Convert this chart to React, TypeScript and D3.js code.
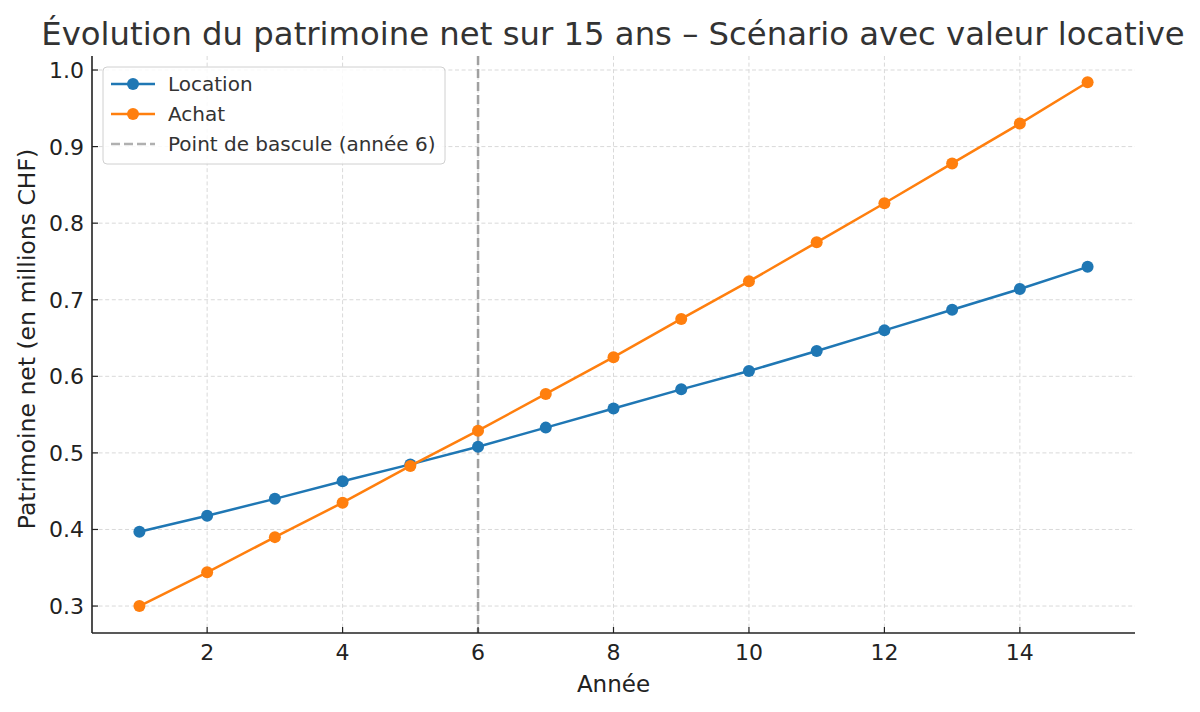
import React from "react";
import * as d3 from "d3";

const years = [1, 2, 3, 4, 5, 6, 7, 8, 9, 10, 11, 12, 13, 14, 15];
const location = [0.397, 0.418, 0.440, 0.463, 0.485, 0.508, 0.533, 0.558, 0.583, 0.607, 0.633, 0.660, 0.687, 0.714, 0.743];
const achat = [0.300, 0.344, 0.390, 0.435, 0.483, 0.529, 0.577, 0.625, 0.675, 0.724, 0.775, 0.826, 0.878, 0.930, 0.984];
const xTicks = [2, 4, 6, 8, 10, 12, 14];
const yTicks = [0.3, 0.4, 0.5, 0.6, 0.7, 0.8, 0.9, 1.0];
const bascule = 6;
const title = "Évolution du patrimoine net sur 15 ans – Scénario avec valeur locative";
const seriesNames = ["Location", "Achat"];
const basculeLabel = "Point de bascule (année 6)";

const W = 1200, H = 712;
const L = 92, R = 1135, T = 56, B = 633;
const BLUE = "#1f77b4", ORANGE = "#ff7f0e";
const FONT = "DejaVu Sans, sans-serif";

export default function App() {
  const x = d3.scaleLinear().domain([0.3, 15.7]).range([L, R]);
  const y = d3.scaleLinear().domain([0.2648, 1.0183]).range([B, T]);
  const line = d3.line<number>().x((_, i) => x(years[i])).y((d) => y(d));
  const series = [
    { name: seriesNames[0], data: location, color: BLUE },
    { name: seriesNames[1], data: achat, color: ORANGE },
  ];
  return (
    <svg width={W} height={H} style={{ position: "absolute", left: 0, top: 0, background: "#fff" }} fontFamily={FONT}>
      <rect width={W} height={H} fill="#fff" />
      {/* grid */}
      {xTicks.map((t) => (
        <line key={"gx" + t} x1={x(t)} x2={x(t)} y1={T} y2={B} stroke="#d9d9d9" strokeWidth={1} strokeDasharray="4,2.6" />
      ))}
      {yTicks.map((t) => (
        <line key={"gy" + t} x1={L} x2={R} y1={y(t)} y2={y(t)} stroke="#d9d9d9" strokeWidth={1} strokeDasharray="4,2.6" />
      ))}
      {/* bascule line */}
      <line x1={x(bascule)} x2={x(bascule)} y1={T} y2={B} stroke="#a0a0a0" strokeWidth={2.5} strokeDasharray="9,4" />
      {/* series */}
      {series.map((s) => (
        <g key={s.name}>
          <path d={line(s.data) || ""} fill="none" stroke={s.color} strokeWidth={2.5} />
          {s.data.map((v, i) => (
            <circle key={i} cx={x(years[i])} cy={y(v)} r={6} fill={s.color} />
          ))}
        </g>
      ))}
      {/* axes */}
      <line x1={L} x2={L} y1={T} y2={B} stroke="#222" strokeWidth={1.6} />
      <line x1={L} x2={R} y1={B} y2={B} stroke="#222" strokeWidth={1.6} />
      {xTicks.map((t) => (
        <g key={"xt" + t}>
          <line x1={x(t)} x2={x(t)} y1={B} y2={B - 6} stroke="#222" strokeWidth={1.2} />
          <text x={x(t)} y={660} textAnchor="middle" fontSize={22} fill="#222">{t}</text>
        </g>
      ))}
      {yTicks.map((t) => (
        <g key={"yt" + t}>
          <line x1={L} x2={L + 6} y1={y(t)} y2={y(t)} stroke="#222" strokeWidth={1.2} />
          <text x={84} y={y(t)} dy="0.36em" textAnchor="end" fontSize={22} fill="#222">{t.toFixed(1)}</text>
        </g>
      ))}
      <text x={(L + R) / 2} y={692} textAnchor="middle" fontSize={23} fill="#222">Année</text>
      <text transform={`translate(35,339) rotate(-90)`} textAnchor="middle" fontSize={23.5} fill="#222">Patrimoine net (en millions CHF)</text>
      <text x={613} y={45} textAnchor="middle" fontSize={32.3} fill="#333">{title}</text>
      {/* legend */}
      <g transform="translate(103,67)">
        <rect x={0} y={0} width={342} height={97} rx={4} fill="#fff" fillOpacity={0.85} stroke="#d0d0d0" />
        {series.map((s, i) => (
          <g key={s.name} transform={`translate(0,${17 + i * 30})`}>
            <line x1={8} x2={52} y1={0} y2={0} stroke={s.color} strokeWidth={2.5} />
            <circle cx={30} cy={0} r={6} fill={s.color} />
            <text x={65} y={0} dy="0.35em" fontSize={20} fill="#333">{s.name}</text>
          </g>
        ))}
        <g transform="translate(0,77)">
          <line x1={8} x2={52} y1={0} y2={0} stroke="#b0b0b0" strokeWidth={2.5} strokeDasharray="9,4" />
          <text x={65} y={0} dy="0.35em" fontSize={20} fill="#333">{basculeLabel}</text>
        </g>
      </g>
    </svg>
  );
}
